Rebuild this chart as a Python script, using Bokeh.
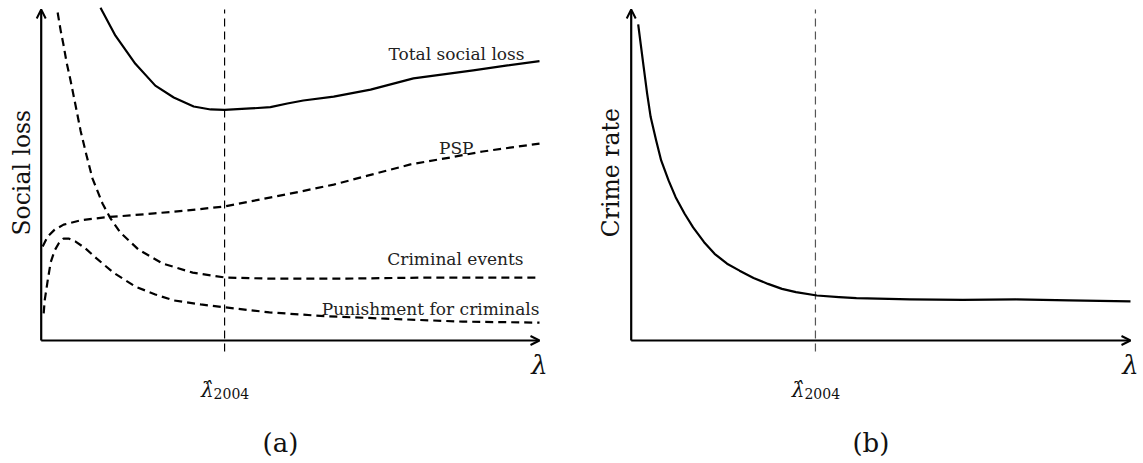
from math import pi
from bokeh.plotting import figure
from bokeh.layouts import row
from bokeh.models import Range1d, Arrow, OpenHead, Label
from bokeh.embed import file_html
from bokeh.resources import INLINE

# ---------------- data ----------------
lam_hat = 3.68          # lambda-hat 2004 (panel a)
lam_hat_b = 3.69        # lambda-hat 2004 (panel b)
x_max = 10.0
y_max = 10.0

tsl_x = [1.19, 1.49, 1.89, 2.29, 2.66, 3.06, 3.40, 3.68, 4.20, 4.60, 4.94, 5.26, 5.87, 6.61, 7.47, 8.07, 8.67, 9.36, 10.0]
tsl_y = [10.05, 9.21, 8.36, 7.70, 7.34, 7.07, 6.98, 6.97, 7.01, 7.05, 7.16, 7.25, 7.37, 7.58, 7.92, 8.04, 8.16, 8.31, 8.44]

psp_x = [0.03, 0.13, 0.27, 0.45, 0.79, 1.27, 1.79, 2.27, 2.94, 3.68, 4.40, 5.20, 5.87, 6.55, 7.41, 8.21, 8.86, 10.0]
psp_y = [2.84, 3.14, 3.35, 3.50, 3.63, 3.72, 3.78, 3.84, 3.93, 4.05, 4.26, 4.50, 4.71, 4.98, 5.32, 5.53, 5.71, 5.95]

ce_x = [0.33, 0.39, 0.45, 0.51, 0.59, 0.69, 0.79, 0.91, 1.03, 1.23, 1.39, 1.59, 1.95, 2.43, 3.04, 3.70, 4.58, 6.13, 7.67, 10.0]
ce_y = [9.91, 9.37, 8.91, 8.40, 7.85, 7.10, 6.34, 5.59, 4.89, 4.14, 3.69, 3.26, 2.75, 2.33, 2.05, 1.90, 1.87, 1.87, 1.90, 1.90]

pun_x = [0.05, 0.07, 0.13, 0.19, 0.27, 0.35, 0.45, 0.55, 0.69, 0.89, 1.11, 1.45, 1.89, 2.29, 2.66, 3.20, 3.70, 4.58, 5.75, 6.91, 8.46, 10.0]
pun_y = [0.82, 1.21, 1.81, 2.36, 2.72, 2.93, 3.08, 3.08, 2.99, 2.78, 2.48, 2.05, 1.63, 1.39, 1.21, 1.09, 1.00, 0.85, 0.73, 0.66, 0.57, 0.54]

crime_x = [0.14, 0.19, 0.25, 0.32, 0.39, 0.50, 0.60, 0.75, 0.89, 1.07, 1.24, 1.46, 1.67, 1.92, 2.17, 2.45, 2.74, 3.02, 3.30, 3.72, 4.16, 4.51, 5.58, 6.64, 7.71, 8.77, 10.0]
crime_y = [9.55, 8.96, 8.26, 7.45, 6.75, 6.04, 5.44, 4.83, 4.33, 3.83, 3.42, 2.97, 2.62, 2.32, 2.11, 1.89, 1.71, 1.56, 1.46, 1.36, 1.31, 1.28, 1.24, 1.23, 1.24, 1.21, 1.18]

series_labels = ["Total social loss", "PSP", "Criminal events", "Punishment for criminals"]
y_titles = ["Social loss", "Crime rate"]
x_symbol = "λ"
hat_symbol = "λ\u0302"
hat_sub = "2004"
panel_tags = ["(a)", "(b)"]

# ---------------- layout ----------------
H = 463
OY = 340.0      # origin y (px from top of figure)
SY = 33.1       # px per y unit
FONT = "DejaVu Serif"


def make_fig(width, ox, sx):
    p = figure(width=width, height=H,
               x_range=Range1d(-ox / sx, (width - ox) / sx),
               y_range=Range1d(-(H - OY) / SY, OY / SY),
               output_backend="svg", toolbar_location=None,
               x_axis_location=None, y_axis_location=None,
               min_border=0)
    p.outline_line_color = None
    p.background_fill_color = "white"
    p.border_fill_color = "white"
    p.grid.grid_line_color = None
    # axes with arrow heads
    p.add_layout(Arrow(end=OpenHead(size=9, line_width=2, line_color="black"),
                       x_start=0, y_start=0, x_end=x_max, y_end=0,
                       line_width=2.2, line_color="black"))
    p.add_layout(Arrow(end=OpenHead(size=9, line_width=2, line_color="black"),
                       x_start=0, y_start=0, x_end=0, y_end=y_max,
                       line_width=2.2, line_color="black"))
    return p


def add_common_labels(p, lh, ytitle, tag):
    p.add_layout(Label(x=-0.395, y=5.07, text=ytitle, angle=pi / 2,
                       text_align="center", text_baseline="middle",
                       text_font=FONT, text_font_size="23.5px", text_color="#111111"))
    p.add_layout(Label(x=x_max + 0.0, y=-0.73, text=x_symbol,
                       text_align="center", text_baseline="middle",
                       text_font=FONT, text_font_style="italic",
                       text_font_size="26px", text_color="#111111"))
    p.add_layout(Label(x=lh, y=-1.51, x_offset=-11, text=hat_symbol,
                       text_align="right", text_baseline="alphabetic",
                       text_font=FONT, text_font_style="italic",
                       text_font_size="20px", text_color="#111111"))
    p.add_layout(Label(x=lh, y=-1.60, x_offset=-11, text=hat_sub,
                       text_align="left", text_baseline="alphabetic",
                       text_font=FONT, text_font_size="14px", text_color="#111111"))
    p.add_layout(Label(x=4.80, y=-3.11, text=tag,
                       text_align="center", text_baseline="middle",
                       text_font=FONT, text_font_size="26px", text_color="#111111"))


# ---------------- panel (a) ----------------
pa = make_fig(590, 40.7, 49.83)
pa.segment(x0=[lam_hat], y0=[-0.33], x1=[lam_hat], y1=[y_max],
           line_color="black", line_width=1.2, line_dash="8 5")
pa.line(tsl_x, tsl_y, line_color="black", line_width=2.2, line_join="round")
for xs, ys in [(psp_x, psp_y), (ce_x, ce_y), (pun_x, pun_y)]:
    pa.line(xs, ys, line_color="black", line_width=2.2, line_dash="8 5", line_join="round")

lab_style = dict(text_font=FONT, text_font_size="17px", text_baseline="middle", text_color="#222222")
pa.add_layout(Label(x=9.70, y=8.67, text=series_labels[0], text_align="right", **lab_style))
pa.add_layout(Label(x=8.33, y=5.83, text=series_labels[1], text_align="center", **lab_style))
pa.add_layout(Label(x=9.68, y=2.45, text=series_labels[2], text_align="right", **lab_style))
pa.add_layout(Label(x=10.0, y=0.94, text=series_labels[3], text_align="right", **lab_style))
add_common_labels(pa, lam_hat, y_titles[0], panel_tags[0])

# ---------------- panel (b) ----------------
pb = make_fig(553, 40.7, 49.93)
pb.segment(x0=[lam_hat_b], y0=[-0.33], x1=[lam_hat_b], y1=[y_max],
           line_color="#555555", line_width=1.2, line_dash="8 5")
pb.line(crime_x, crime_y, line_color="black", line_width=2.2, line_join="round")
add_common_labels(pb, lam_hat_b, y_titles[1], panel_tags[1])

layout = row(pa, pb)
open("out.html", "w").write(file_html(layout, INLINE))
